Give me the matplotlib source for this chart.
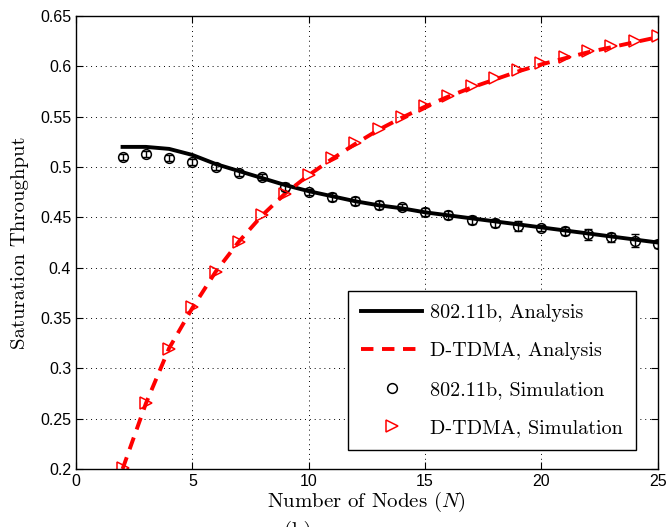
import numpy as np
import matplotlib
matplotlib.use("Agg")
import matplotlib.pyplot as plt

# number of nodes
nodes = [2, 3, 4, 5, 6, 7, 8, 9, 10, 11, 12, 13, 14, 15, 16, 17, 18, 19, 20, 21, 22, 23, 24, 25]

# 802.11b analysis / simulation
ieee_analysis = [0.520, 0.520, 0.518, 0.512, 0.503, 0.496, 0.489, 0.482, 0.476, 0.471, 0.466,
                 0.462, 0.459, 0.455, 0.452, 0.449, 0.446, 0.443, 0.440, 0.437, 0.434, 0.431, 0.428, 0.425]
ieee_sim = [0.510, 0.513, 0.509, 0.505, 0.500, 0.494, 0.490, 0.480, 0.475, 0.470, 0.466,
            0.462, 0.460, 0.455, 0.452, 0.447, 0.444, 0.441, 0.439, 0.436, 0.433, 0.430, 0.427, 0.424]
ieee_err = [0.003, 0.003, 0.003, 0.003, 0.003, 0.003, 0.003, 0.004, 0.003, 0.004, 0.004,
            0.004, 0.003, 0.004, 0.004, 0.004, 0.004, 0.005, 0.003, 0.004, 0.005, 0.004, 0.006, 0.004]

# D-TDMA analysis / simulation
dtdma_analysis = [0.200, 0.265, 0.320, 0.360, 0.396, 0.426, 0.452, 0.474, 0.492, 0.508, 0.523,
                  0.537, 0.549, 0.560, 0.570, 0.579, 0.587, 0.595, 0.602, 0.608, 0.614, 0.619, 0.624, 0.629]
dtdma_sim = [0.201, 0.266, 0.319, 0.361, 0.396, 0.426, 0.452, 0.473, 0.492, 0.509, 0.524,
             0.538, 0.550, 0.561, 0.571, 0.580, 0.588, 0.596, 0.603, 0.609, 0.615, 0.620, 0.625, 0.630]

serif = {"family": "cmr10"}
plt.rcParams["mathtext.fontset"] = "cm"

fig = plt.figure(figsize=(6.68, 5.27), dpi=100)
ax = fig.add_axes([0.1138, 0.110, 0.871, 0.8596])

h1, = ax.plot(nodes, ieee_analysis, color="k", lw=2.8, label="802.11b, Analysis")
h2, = ax.plot(nodes, dtdma_analysis, color="red", lw=2.8, ls=(0, (3.2, 2.2)), label="D-TDMA, Analysis")
ax.errorbar(nodes, ieee_sim, yerr=ieee_err, fmt="none", ecolor="k", capsize=3, elinewidth=1)
h3, = ax.plot(nodes, ieee_sim, "o", mfc="none", mec="k", ms=7, mew=1.1, ls="none",
              label="802.11b, Simulation")
h4, = ax.plot(nodes, dtdma_sim, ">", mfc="none", mec="red", ms=9, mew=1.1, ls="none",
              label="D-TDMA, Simulation")

ax.set_xlim(0, 25)
ax.set_ylim(0.2, 0.65)
ax.set_xticks([0, 5, 10, 15, 20, 25])
ax.set_yticks(np.arange(0.2, 0.651, 0.05))
ax.set_yticklabels(["0.2", "0.25", "0.3", "0.35", "0.4", "0.45", "0.5", "0.55", "0.6", "0.65"])
ax.tick_params(direction="in", top=True, right=True, labelsize=11.5, length=5)
for lbl in ax.get_xticklabels() + ax.get_yticklabels():
    lbl.set_family("Liberation Sans")
ax.grid(True, ls=(0, (1, 4)), color="k", lw=0.7)
for s in ax.spines.values():
    s.set_linewidth(1.0)

ax.set_xlabel("Number of Nodes ($N$)", fontdict=serif, fontsize=15, labelpad=1)
ax.set_ylabel("Saturation Throughput", fontdict=serif, fontsize=15, labelpad=8)

leg = ax.legend([h1, h2, h3, h4], [h.get_label() for h in [h1, h2, h3, h4]],
                loc="lower right", prop={"family": "cmr10", "size": 14.5}, handlelength=3.0,
                fancybox=False, framealpha=1, edgecolor="k", borderpad=0.65, labelspacing=1.0,
                handletextpad=0.4, bbox_to_anchor=(0.962, 0.042), borderaxespad=0)
leg.get_frame().set_linewidth(1.0)

fig.text(0.445, 0.012, "(b)", fontdict=serif, fontsize=15, va="top", ha="center")

fig.savefig("out.png", dpi=100)
